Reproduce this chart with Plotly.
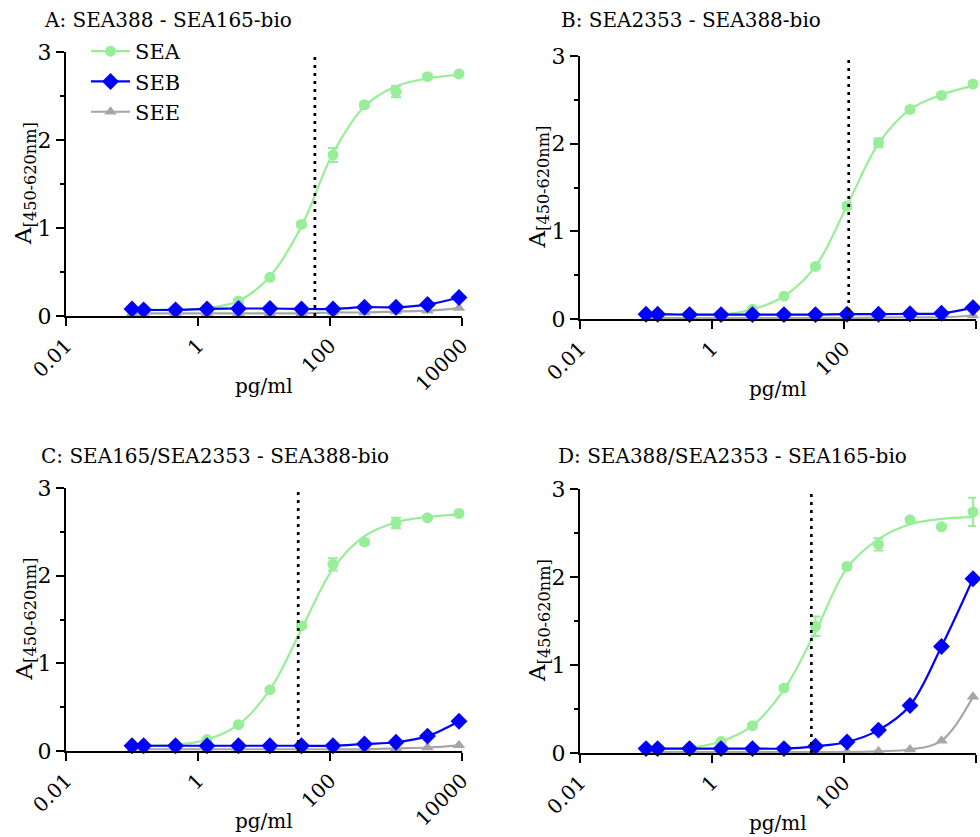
import plotly.graph_objects as go

# Antigen concentrations (pg/ml), shared by all four assays
conc = [0.1, 0.15, 0.457, 1.37, 4.1, 12.3, 37, 111, 333, 1000, 3000, 9000]

# Panel A: SEA388 - SEA165-bio
a_sea = [0.07, 0.07, 0.07, 0.09, 0.17, 0.44, 1.04, 1.83, 2.40, 2.55, 2.72, 2.75]
a_sea_err = [0.01, 0.01, 0.01, 0.01, 0.02, 0.02, 0.03, 0.08, 0.03, 0.065, 0.03, 0.02]
a_sea_fit = [0.07, 0.07, 0.07, 0.09, 0.17, 0.45, 1.02, 1.85, 2.38, 2.61, 2.70, 2.74]
a_seb = [0.08, 0.07, 0.07, 0.08, 0.085, 0.085, 0.08, 0.08, 0.10, 0.10, 0.13, 0.21]
a_see = [0.03, 0.03, 0.03, 0.03, 0.03, 0.03, 0.03, 0.04, 0.04, 0.05, 0.06, 0.09]
a_ec50 = 59

# Panel B: SEA2353 - SEA388-bio
b_sea = [0.05, 0.05, 0.05, 0.05, 0.11, 0.26, 0.60, 1.29, 2.01, 2.39, 2.55, 2.68]
b_sea_err = [0.01, 0.01, 0.01, 0.01, 0.01, 0.02, 0.02, 0.03, 0.05, 0.03, 0.03, 0.02]
b_sea_fit = [0.05, 0.05, 0.05, 0.05, 0.11, 0.26, 0.60, 1.29, 2.00, 2.39, 2.56, 2.66]
b_seb = [0.055, 0.055, 0.05, 0.05, 0.05, 0.05, 0.05, 0.055, 0.055, 0.06, 0.065, 0.13]
b_see = [0.01, 0.01, 0.01, 0.01, 0.01, 0.01, 0.01, 0.01, 0.015, 0.02, 0.02, 0.04]
b_ec50 = 118

# Panel C: SEA165/SEA2353 - SEA388-bio
c_sea = [0.06, 0.06, 0.07, 0.13, 0.30, 0.70, 1.43, 2.13, 2.385, 2.60, 2.66, 2.71]
c_sea_err = [0.01, 0.01, 0.01, 0.01, 0.02, 0.02, 0.03, 0.07, 0.03, 0.06, 0.02, 0.02]
c_sea_fit = [0.06, 0.06, 0.07, 0.13, 0.30, 0.70, 1.39, 2.08, 2.45, 2.61, 2.67, 2.70]
c_seb = [0.06, 0.06, 0.06, 0.06, 0.06, 0.06, 0.06, 0.06, 0.08, 0.10, 0.17, 0.34]
c_see = [0.02, 0.02, 0.02, 0.02, 0.02, 0.02, 0.02, 0.02, 0.02, 0.03, 0.04, 0.065]
c_ec50 = 33

# Panel D: SEA388/SEA2353 - SEA165-bio
d_sea = [0.05, 0.05, 0.06, 0.13, 0.31, 0.74, 1.44, 2.12, 2.37, 2.65, 2.57, 2.74]
d_sea_err = [0.01, 0.01, 0.01, 0.01, 0.02, 0.02, 0.11, 0.03, 0.07, 0.02, 0.02, 0.16]
d_sea_fit = [0.05, 0.05, 0.06, 0.13, 0.31, 0.72, 1.38, 2.10, 2.43, 2.60, 2.66, 2.68]
d_seb = [0.05, 0.05, 0.05, 0.05, 0.05, 0.05, 0.076, 0.125, 0.26, 0.54, 1.21, 1.98]
d_see = [0.01, 0.01, 0.01, 0.01, 0.01, 0.01, 0.01, 0.01, 0.02, 0.04, 0.14, 0.64]
d_ec50 = 32

titles = ["A: SEA388 - SEA165-bio", "B: SEA2353 - SEA388-bio",
          "C: SEA165/SEA2353 - SEA388-bio", "D: SEA388/SEA2353 - SEA165-bio"]
x_tick_vals = [0.01, 1, 100, 10000]
x_tick_text = ["0.01", "1", "100", "10000"]
y_tick_vals = [0, 1, 2, 3]

panels = [
    (a_sea, a_sea_err, a_sea_fit, a_seb, a_see, a_ec50),
    (b_sea, b_sea_err, b_sea_fit, b_seb, b_see, b_ec50),
    (c_sea, c_sea_err, c_sea_fit, c_seb, c_see, c_ec50),
    (d_sea, d_sea_err, d_sea_fit, d_seb, d_see, d_ec50),
]

W, H = 980, 837
FONT = "DejaVu Serif"
GREEN = "#98ee98"
BLUE = "#0000ff"
GREY = "#a6a6a6"

# plot-area boxes in pixels: (left, right, top, bottom)
boxes = [(66, 462, 52, 316), (580, 976, 56, 319),
         (66, 462, 488, 751), (580, 976, 489, 753)]
# title left edge / vertical centre
title_pos = [(42, 20), (559, 20), (39, 456), (556, 456)]

fig = go.Figure()
axes = {}

for i, (sea, sea_err, sea_fit, seb, see, ec50) in enumerate(panels):
    k = "" if i == 0 else str(i + 1)
    xa, ya = "x" + k, "y" + k
    l, r, t, b = boxes[i]
    axes["xaxis" + k] = dict(
        type="log", domain=[l / W, r / W], range=[-2, 4], anchor=ya,
        automargin=False,
        tickvals=x_tick_vals, ticktext=x_tick_text, tickangle=-45,
        ticks="outside", ticklen=8, tickwidth=2, tickcolor="black",
        showline=True, linewidth=2, linecolor="black",
        showgrid=False, zeroline=False,
        tickfont=dict(family=FONT, size=20, color="black"),
    )
    axes["yaxis" + k] = dict(
        domain=[1 - b / H, 1 - t / H], range=[0, 3], anchor=xa,
        automargin=False,
        tickvals=y_tick_vals, ticks="outside", ticklen=8, tickwidth=2,
        tickcolor="black", showline=True, linewidth=2, linecolor="black",
        showgrid=False, zeroline=False,
        minor=dict(dtick=0.5, ticks="outside", ticklen=4, tickwidth=2,
                   tickcolor="black", showgrid=False),
        tickfont=dict(family=FONT, size=22, color="black"),
    )

    # SEA: fitted curve, then the measured points with error bars
    fig.add_trace(go.Scatter(x=conc, y=sea_fit, mode="lines", xaxis=xa, yaxis=ya,
                             line=dict(color=GREEN, width=2.2, shape="spline"),
                             showlegend=False, hoverinfo="skip"))
    fig.add_trace(go.Scatter(x=conc, y=sea, mode="markers", xaxis=xa, yaxis=ya,
                             marker=dict(symbol="circle", size=11, color=GREEN),
                             error_y=dict(type="data", array=sea_err, color=GREEN,
                                          thickness=2, width=5),
                             cliponaxis=False, showlegend=False))
    # SEE
    fig.add_trace(go.Scatter(x=conc, y=see, mode="lines+markers", xaxis=xa, yaxis=ya,
                             line=dict(color=GREY, width=2.2, shape="spline"),
                             marker=dict(symbol="triangle-up", size=11, color=GREY),
                             cliponaxis=False, name="SEE", legendrank=3,
                             showlegend=(i == 0)))
    # SEB
    fig.add_trace(go.Scatter(x=conc, y=seb, mode="lines+markers", xaxis=xa, yaxis=ya,
                             line=dict(color=BLUE, width=2.2, shape="spline"),
                             marker=dict(symbol="diamond", size=13, color=BLUE),
                             cliponaxis=False, name="SEB", legendrank=2,
                             showlegend=(i == 0)))

    # EC50 marker line
    fig.add_shape(type="line", xref=xa, yref=ya, x0=ec50, x1=ec50, y0=0, y1=3,
                  line=dict(color="black", width=2.7, dash="3px,5px"), layer="above")

    # panel title and axis titles
    tx, ty = title_pos[i]
    fig.add_annotation(text=titles[i], xref="paper", yref="paper",
                       x=tx / W, y=1 - ty / H, xanchor="left", yanchor="middle",
                       showarrow=False, font=dict(family=FONT, size=20, color="black"))
    fig.add_annotation(text="pg/ml", xref="paper", yref="paper",
                       x=(l + r) / 2 / W, y=1 - (b + 70) / H,
                       xanchor="center", yanchor="middle", showarrow=False,
                       font=dict(family=FONT, size=20, color="black"))
    fig.add_annotation(text="A<sub>[450-620nm]</sub>", xref="paper", yref="paper",
                       x=(l - 41) / W, y=1 - (t + b) / 2 / H, textangle=-90,
                       xanchor="center", yanchor="middle", showarrow=False,
                       font=dict(family=FONT, size=23, color="black"))

# legend entry for SEA (curve + symbol)
fig.add_trace(go.Scatter(x=[None], y=[None], mode="lines+markers", name="SEA",
                         line=dict(color=GREEN, width=2.2),
                         marker=dict(symbol="circle", size=11, color=GREEN),
                         legendrank=1, showlegend=True))

fig.update_layout(
    width=W, height=H, margin=dict(l=0, r=0, t=0, b=0, autoexpand=False),
    paper_bgcolor="white", plot_bgcolor="white",
    font=dict(family=FONT, color="black"),
    showlegend=True,
    legend=dict(x=86 / W, y=1 - 31 / H, xanchor="left", yanchor="top",
                bgcolor="rgba(0,0,0,0)",
                font=dict(family=FONT, size=21, color="black"),
                itemwidth=39, tracegroupgap=0),
    **axes,
)
fig.write_html("out.html")
